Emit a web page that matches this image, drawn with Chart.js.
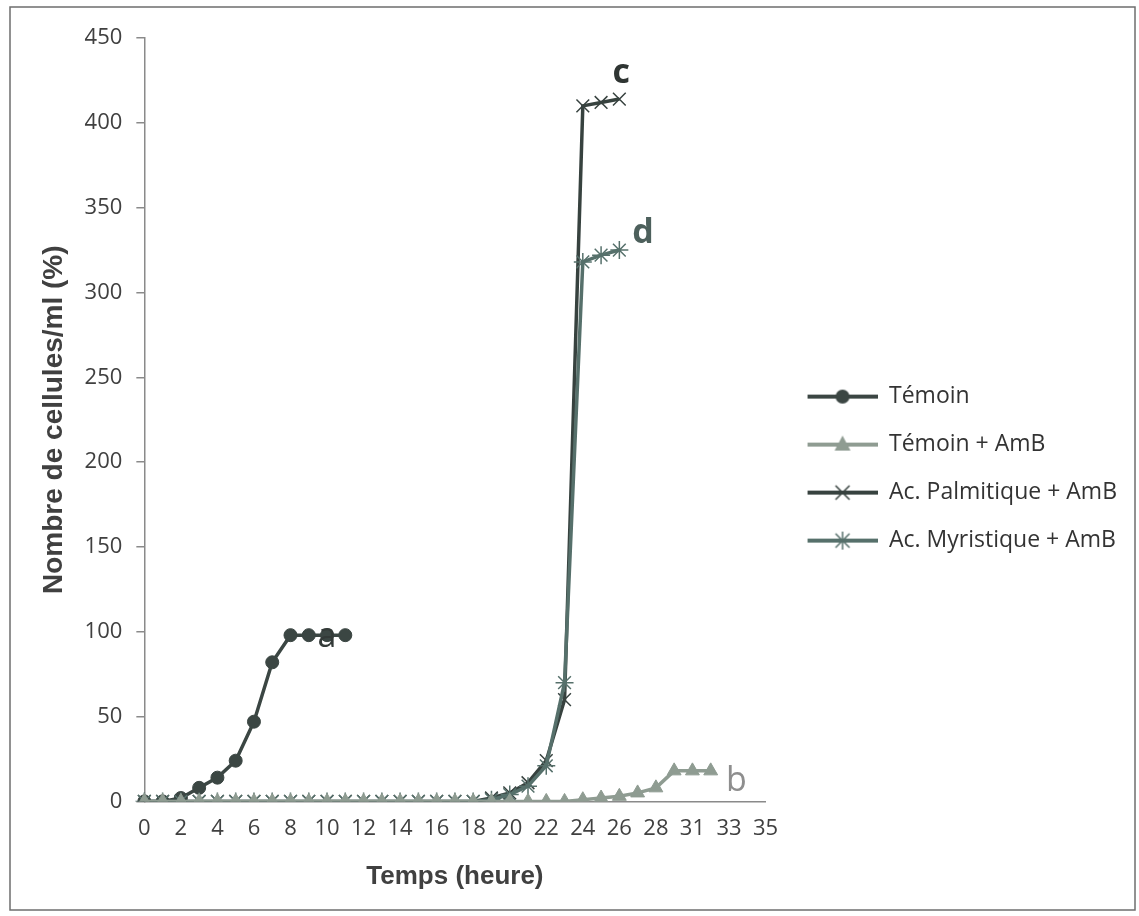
<!DOCTYPE html>
<html>
<head>
<meta charset="utf-8">
<script src="https://cdn.jsdelivr.net/npm/chart.js@4/dist/chart.umd.min.js"></script>
<style>
  html, body { margin: 0; padding: 0; background: #fff; }
  #wrap { width: 1139px; height: 916px; position: relative; }
</style>
</head>
<body>
<div id="wrap"><canvas id="mainChart"></canvas></div>
<script>
// Categories (hours) - note 29 is missing on the original axis
const hours = ['0','1','2','3','4','5','6','7','8','9','10','11','12','13','14','15','16','17','18','19',
  '20','21','22','23','24','25','26','27','28','30','31','32','33','34','35'];

const temoin = [0, 0, 2, 8, 14, 24, 47, 82, 98, 98, 98, 98];
const temoinAmB = [0, 0, 0, 0, 0, 0, 0, 0, 0, 0, 0, 0, 0, 0, 0, 0, 0, 0, 0, 0,
  0, 0, 0, 0, 1, 2, 3, 5, 8, 18, 18, 18];
const palmitique = [0, 0, 0, 0, 0, 0, 0, 0, 0, 0, 0, 0, 0, 0, 0, 0, 0, 0, 0, 2,
  5, 11, 24, 60, 410, 412, 414];
const myristique = [0, 0, 0, 0, 0, 0, 0, 0, 0, 0, 0, 0, 0, 0, 0, 0, 0, 0, 0, 1,
  4, 9, 21, 70, 318, 322, 325];

const yTicks = [0, 50, 100, 150, 200, 250, 300, 350, 400, 450];

// letters written next to the curves (x = category index, y = value)
const letters = [
  { text: 'a', x: 10.0, y: 97, color: '#333a38', bold: false },
  { text: 'b', x: 32.4, y: 12, color: '#8e8e8e', bold: false },
  { text: 'c', x: 26.1, y: 429, color: '#2f3533', bold: true },
  { text: 'd', x: 27.3, y: 335, color: '#4d605c', bold: true }
];

const colTemoin = '#3b4643';
const colAmB = '#8f9c92';
const colPalm = '#37423f';
const colMyr = '#56706b';

function legendIcon(color, style) {
    const c = document.createElement('canvas');
    c.width = 87;
    c.height = 24;
    const ctx = c.getContext('2d');
    ctx.strokeStyle = color;
    ctx.fillStyle = color;
    ctx.lineWidth = 4;
    ctx.beginPath();
    ctx.moveTo(17, 12);
    ctx.lineTo(87, 12);
    ctx.stroke();
    const cx = 52, cy = 12;
    ctx.lineWidth = 1.5;
    ctx.beginPath();
    if (style === 'circle') {
        ctx.arc(cx, cy, 7, 0, Math.PI * 2);
        ctx.fill();
    } else if (style === 'triangle') {
        ctx.moveTo(cx, cy - 9);
        ctx.lineTo(cx + 8, cy + 6);
        ctx.lineTo(cx - 8, cy + 6);
        ctx.closePath();
        ctx.fill();
    } else if (style === 'crossRot') {
        ctx.moveTo(cx - 7, cy - 7); ctx.lineTo(cx + 7, cy + 7);
        ctx.moveTo(cx + 7, cy - 7); ctx.lineTo(cx - 7, cy + 7);
        ctx.stroke();
    } else {
        ctx.moveTo(cx - 7, cy - 7); ctx.lineTo(cx + 7, cy + 7);
        ctx.moveTo(cx + 7, cy - 7); ctx.lineTo(cx - 7, cy + 7);
        ctx.moveTo(cx, cy - 9); ctx.lineTo(cx, cy + 9);
        ctx.stroke();
    }
    return c;
}

const icons = [
    legendIcon(colTemoin, 'circle'),
    legendIcon(colAmB, 'triangle'),
    legendIcon(colPalm, 'crossRot'),
    legendIcon(colMyr, 'star')
];

const backgroundAndLetters = {
    id: 'backgroundAndLetters',
    beforeDraw(chart) {
        const ctx = chart.ctx;
        ctx.save();
        ctx.fillStyle = '#ffffff';
        ctx.fillRect(0, 0, chart.width, chart.height);
        ctx.strokeStyle = '#6e6e6e';
        ctx.lineWidth = 1.5;
        ctx.strokeRect(10, 7, chart.width - 14, chart.height - 13);
        ctx.restore();
    },
    afterDatasetsDraw(chart) {
        const ctx = chart.ctx;
        const xs = chart.scales.x, ys = chart.scales.y;
        ctx.save();
        ctx.textAlign = 'center';
        ctx.textBaseline = 'middle';
        letters.forEach(l => {
            ctx.font = (l.bold ? 'bold ' : '') + "34px 'Open Sans', sans-serif";
            ctx.fillStyle = l.color;
            ctx.fillText(l.text, xs.getPixelForValue(l.x), ys.getPixelForValue(l.y));
        });
        ctx.restore();
    }
};

Chart.defaults.font.family = "'Open Sans', sans-serif";
Chart.defaults.color = '#404040';

const ctx = document.getElementById('mainChart').getContext('2d');
new Chart(ctx, {
    type: 'line',
    data: {
        labels: hours,
        datasets: [{
            label: 'Témoin',
            data: temoin,
            borderColor: colTemoin,
            backgroundColor: colTemoin,
            borderWidth: 3.5,
            pointStyle: 'circle',
            pointRadius: 6.5,
            pointBorderWidth: 1,
            tension: 0,
            order: 4
        }, {
            label: 'Témoin + AmB',
            data: temoinAmB,
            borderColor: colAmB,
            backgroundColor: colAmB,
            borderWidth: 3.5,
            pointStyle: 'triangle',
            pointRadius: 8,
            pointBorderWidth: 1,
            tension: 0,
            order: 1
        }, {
            label: 'Ac. Palmitique + AmB',
            data: palmitique,
            borderColor: colPalm,
            backgroundColor: colPalm,
            borderWidth: 3.5,
            pointStyle: 'crossRot',
            pointRadius: 9,
            pointBorderWidth: 1.5,
            tension: 0,
            order: 3
        }, {
            label: 'Ac. Myristique + AmB',
            data: myristique,
            borderColor: colMyr,
            backgroundColor: colMyr,
            borderWidth: 3.5,
            pointStyle: 'star',
            pointRadius: 9,
            pointBorderWidth: 1.5,
            tension: 0,
            order: 2
        }]
    },
    options: {
        responsive: true,
        maintainAspectRatio: false,
        animation: false,
        layout: {
            padding: { top: 38, right: 12, bottom: 24, left: 37 }
        },
        plugins: {
            tooltip: { enabled: false },
            legend: {
                position: 'right',
                align: 'center',
                maxWidth: 420,
                title: { display: true, text: '', padding: { top: 0, bottom: 0 }, font: { size: 6 } },
                labels: {
                    usePointStyle: true,
                    pointStyleWidth: 87,
                    padding: 25,
                    color: '#333333',
                    font: { size: 23 },
                    generateLabels(chart) {
                        return chart.data.datasets.map((ds, i) => ({
                            text: ds.label,
                            datasetIndex: i,
                            pointStyle: icons[i],
                            fillStyle: ds.borderColor,
                            strokeStyle: ds.borderColor,
                            lineWidth: 0,
                            hidden: false,
                            fontColor: '#333333'
                        }));
                    }
                }
            }
        },
        scales: {
            x: {
                type: 'category',
                offset: false,
                grid: { display: false, drawTicks: false },
                border: { color: '#8a8a8a', width: 1.5 },
                ticks: {
                    autoSkip: false,
                    maxRotation: 0,
                    padding: 14,
                    font: { size: 22 },
                    callback: (val, idx) => idx % 2 === 0 ? hours[idx] : ''
                },
                title: {
                    display: true,
                    text: 'Temps (heure)',
                    color: '#404040',
                    font: { family: "'Liberation Sans', Arial, sans-serif", size: 26, weight: 'bold' },
                    padding: { top: 5, bottom: 0 }
                }
            },
            y: {
                min: 0,
                max: 450,
                afterBuildTicks: (scale) => { scale.ticks = yTicks.map(v => ({ value: v })); },
                grid: { drawOnChartArea: false, drawTicks: true, tickLength: 8, color: '#8a8a8a', lineWidth: 1.5 },
                border: { color: '#8a8a8a', width: 1.5 },
                ticks: {
                    padding: 14,
                    font: { size: 22 }
                },
                title: {
                    display: true,
                    text: 'Nombre de cellules/ml (%)',
                    color: '#404040',
                    font: { family: "'Liberation Sans', Arial, sans-serif", size: 28, weight: 'bold' },
                    padding: { top: 0, bottom: 0 }
                }
            }
        }
    },
    plugins: [backgroundAndLetters]
});
</script>
</body>
</html>
